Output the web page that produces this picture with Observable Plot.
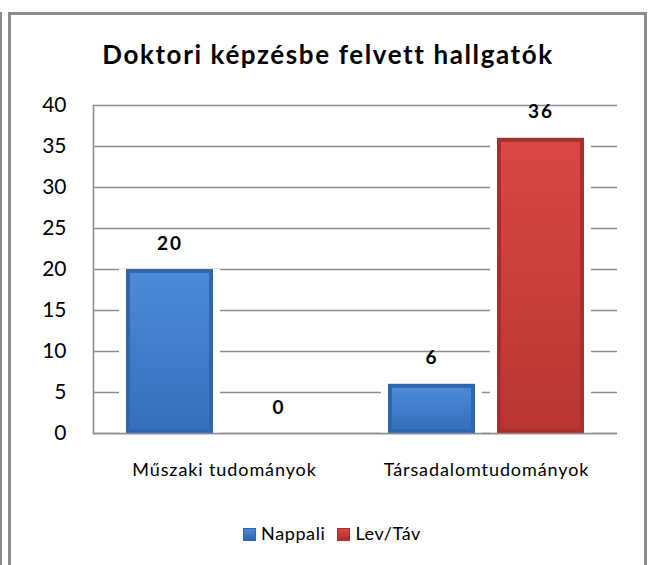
<!DOCTYPE html>
<html>
<head>
<meta charset="utf-8">
<script src="https://cdn.jsdelivr.net/npm/d3@7"></script>
<script src="https://cdn.jsdelivr.net/npm/@observablehq/plot@0.6"></script>
<style>
  html, body { margin: 0; padding: 0; background: #fff; }
  #wrap { position: relative; width: 649px; height: 565px; overflow: hidden; background: #fff; font-family: Lato, "Open Sans", sans-serif; }
  .outer-line { position: absolute; left: 0; top: 12px; width: 2px; height: 600px; background: #8c8c8c; }
  .frame { position: absolute; left: 8px; top: 12px; width: 639px; height: 600px; box-sizing: border-box; border: 3px solid #8c8c8c; }
  #title { position: absolute; left: 0; width: 656px; top: 39px; line-height: 30px; text-align: center; font-weight: bold; font-size: 26px; letter-spacing: 1.6px; color: #000; }
  #chart { position: absolute; left: 0; top: 80px; }
  #chart g[aria-label="fx-axis tick label"] { letter-spacing: 0.9px; }
  #chart g[aria-label="text"] { letter-spacing: 2px; }
  #legend { position: absolute; left: 0; width: 664px; top: 522px; line-height: 22px; text-align: center; font-size: 18px; letter-spacing: 0.6px; color: #000; }
  #legend .item { display: inline-block; margin: 0 6px; }
  #legend .sw { display: inline-block; width: 13px; height: 13px; margin-right: 5px; vertical-align: -1px; box-sizing: border-box; }
</style>
</head>
<body>
<div id="wrap">
  <div class="outer-line"></div>
  <div class="frame"></div>
  <div id="title"></div>
  <div id="chart"></div>
  <div id="legend"></div>
</div>
<script>
const titleText = "Doktori képzésbe felvett hallgatók";
const categories = ["Műszaki tudományok", "Társadalomtudományok"];
const seriesNames = ["Nappali", "Lev/Táv"];
const nappali = [20, 6];
const levTav = [0, 36];
const yTicks = [0, 5, 10, 15, 20, 25, 30, 35, 40];

const rows = [];
categories.forEach((c, i) => {
  rows.push({cat: c, series: seriesNames[0], value: nappali[i]});
  rows.push({cat: c, series: seriesNames[1], value: levTav[i]});
});
const blueRows = rows.filter(d => d.series === seriesNames[0]);
const redRows = rows.filter(d => d.series === seriesNames[1]);

document.getElementById("title").textContent = titleText;

const common = {fx: "cat", x: "series", y: "value"};
const chart = Plot.plot({
  width: 649,
  height: 400,
  marginTop: 25,
  marginBottom: 47,
  marginLeft: 92,
  marginRight: 32,
  style: {fontFamily: "Lato, 'Open Sans', sans-serif", background: "transparent", overflow: "visible"},
  fx: {domain: categories, padding: 0, label: null},
  x: {domain: seriesNames, paddingInner: 0.2, paddingOuter: 0.3, axis: null},
  y: {domain: [0, 40], label: null},
  marks: [
    Plot.ruleY(yTicks, {stroke: "#8c8c8c", strokeWidth: 1.6}),
    Plot.frame({anchor: "left", facetAnchor: "left", stroke: "#8c8c8c", strokeWidth: 1.6}),
    Plot.barY(rows, {...common, fill: "white", insetLeft: -7, insetRight: -7}),
    Plot.barY(blueRows, {...common, fill: "#2f66ad"}),
    Plot.barY(blueRows, {...common, fill: "url(#gBlue)", insetLeft: 4, insetRight: 4, insetTop: 4, insetBottom: 4}),
    Plot.barY(redRows, {...common, fill: "#a8302c"}),
    Plot.barY(redRows, {...common, fill: "url(#gRed)", insetLeft: 4, insetRight: 4, insetTop: 4, insetBottom: 4}),
    Plot.ruleY([0], {stroke: "#8c8c8c", strokeWidth: 1.6}),
    Plot.text(rows, {...common, text: d => String(d.value), dy: -26, lineAnchor: "middle", fontSize: 19, fontWeight: "bold", fill: "#000"}),
    Plot.axisY({ticks: yTicks, tickSize: 0, tickPadding: 27, fontSize: 21, label: null}),
    Plot.axisFx({tickSize: 0, tickPadding: 30, fontSize: 18, label: null, anchor: "bottom"})
  ]
});

const svg = d3.select(chart);
const defs = svg.insert("defs", ":first-child");
function grad(id, stops) {
  const g = defs.append("linearGradient").attr("id", id).attr("x1", 0).attr("y1", 0).attr("x2", 0).attr("y2", 1);
  stops.forEach(([o, c]) => g.append("stop").attr("offset", o).attr("stop-color", c));
}
grad("gBlue", [[0, "#4a8ad8"], [1, "#3670bb"]]);
grad("gRed", [[0, "#da4744"], [1, "#b83632"]]);
document.getElementById("chart").appendChild(chart);

const legend = document.getElementById("legend");
const swColors = [["#4a8ad8", "#2f66ad"], ["#da4744", "#a8302c"]];
seriesNames.forEach((s, i) => {
  const item = document.createElement("span");
  item.className = "item";
  const sw = document.createElement("span");
  sw.className = "sw";
  sw.style.background = `linear-gradient(${swColors[i][0]}, ${swColors[i][1]})`;
  sw.style.border = `1px solid ${swColors[i][1]}`;
  item.appendChild(sw);
  item.appendChild(document.createTextNode(s));
  legend.appendChild(item);
});
</script>
</body>
</html>
